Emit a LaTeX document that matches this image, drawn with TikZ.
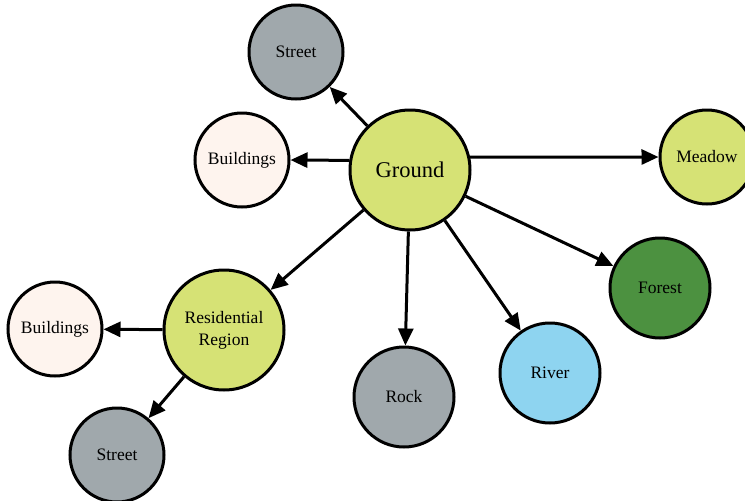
\documentclass[tikz,border=0pt]{standalone}
\usepackage{fontspec}
\setmainfont{Liberation Serif}
\usetikzlibrary{arrows.meta}
\definecolor{cground}{RGB}{214,226,117}
\definecolor{cstreet}{RGB}{160,168,172}
\definecolor{cbuild}{RGB}{254,244,238}
\definecolor{cforest}{RGB}{76,145,64}
\definecolor{criver}{RGB}{142,212,240}
\tikzset{
  nd/.style={circle, draw=black, line width=3pt, inner sep=0pt, align=center, font=\fontsize{17.5}{22}\selectfont},
  big/.style={nd, minimum size=120pt},
  mid/.style={nd, minimum size=100pt},
  small/.style={nd, minimum size=94pt},
  arr/.style={line width=3pt, -{Triangle[length=17pt,width=15pt]}}
}
\begin{document}
\begin{tikzpicture}[x=1pt,y=-1pt]
\useasboundingbox (0,0) rectangle (745,501);
\clip (0,0) rectangle (745,501);
\node[big, fill=cground, font=\fontsize{22.5}{26}\selectfont] (g) at (410,170) {Ground};
\node[small, fill=cstreet] (st1) at (296,52) {Street};
\node[small, fill=cbuild] (b1) at (242,160) {Buildings};
\node[small, fill=cground] (m) at (707,157) {Meadow};
\node[mid, fill=cforest] (f) at (660,288) {Forest};
\node[mid, fill=criver] (rv) at (550,373) {River};
\node[mid, fill=cstreet] (rk) at (404,397) {Rock};
\node[big, fill=cground] (res) at (224,330) {Residential\\Region};
\node[small, fill=cbuild] (b2) at (55,329) {Buildings};
\node[small, fill=cstreet] (st2) at (117,455) {Street};
\draw[arr] (g) -- (st1);
\draw[arr] (g.171.5) -- (b1.east);
\draw[arr] (g.12.5) -- (m.west);
\draw[arr] (g) -- (f);
\draw[arr] (g) -- (rv);
\draw[arr] (g) -- (rk);
\draw[arr] (g) -- (res);
\draw[arr] (res) -- (b2);
\draw[arr] (res) -- (st2);
\end{tikzpicture}
\end{document}
